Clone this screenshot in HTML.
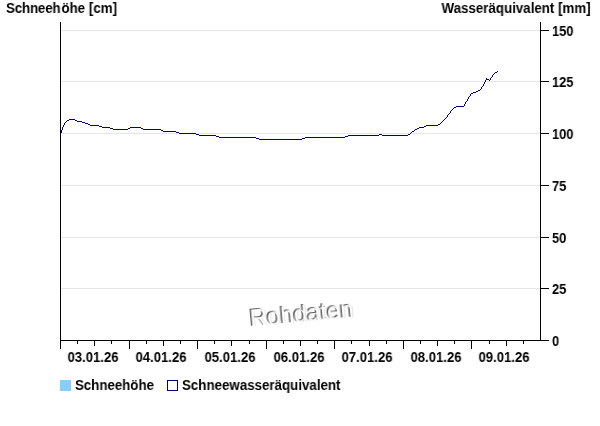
<!DOCTYPE html>
<html><head><meta charset="utf-8"><title>Schneehöhe</title>
<style>
html,body{margin:0;padding:0;background:#fff;}
body{width:600px;height:426px;position:relative;overflow:hidden;font-family:"Liberation Sans",Arial,sans-serif;color:#000;font-weight:bold;font-size:14px;}
.t,.rl,.dl{will-change:transform;}
.t{position:absolute;white-space:nowrap;line-height:16px;transform:scaleX(.952);transform-origin:0 0;}
.rl{position:absolute;left:551.8px;line-height:16px;white-space:nowrap;transform:scaleX(.92);transform-origin:0 0;}
.dl{position:absolute;top:349.15px;width:80px;text-align:center;transform:scaleX(.935);transform-origin:50% 0;line-height:16px;white-space:nowrap;}
svg{position:absolute;left:0;top:0;}
.wm{position:absolute;left:247px;top:303.5px;font-weight:normal;font-size:24px;will-change:transform;line-height:28px;transform:rotate(-5.2deg);transform-origin:0 100%;white-space:nowrap;}
.wm span{position:absolute;left:0;top:0;}
</style></head><body>
<svg width="600" height="426" viewBox="0 0 600 426">
<g stroke="#e6e6e6" stroke-width="1" shape-rendering="crispEdges"><line x1="61" y1="30.50" x2="540" y2="30.50"/><line x1="61" y1="81.50" x2="540" y2="81.50"/><line x1="61" y1="133.50" x2="540" y2="133.50"/><line x1="61" y1="185.50" x2="540" y2="185.50"/><line x1="61" y1="237.50" x2="540" y2="237.50"/><line x1="61" y1="288.50" x2="540" y2="288.50"/></g>
<g stroke="#000" stroke-width="1" shape-rendering="crispEdges">
<line x1="60.5" y1="22" x2="60.5" y2="349"/>
<line x1="540.5" y1="22" x2="540.5" y2="341"/>
<line x1="60" y1="340.5" x2="541" y2="340.5"/>
<line x1="541" y1="30.50" x2="549" y2="30.50"/><line x1="541" y1="81.50" x2="549" y2="81.50"/><line x1="541" y1="133.50" x2="549" y2="133.50"/><line x1="541" y1="185.50" x2="549" y2="185.50"/><line x1="541" y1="237.50" x2="549" y2="237.50"/><line x1="541" y1="288.50" x2="549" y2="288.50"/><line x1="541" y1="340.50" x2="549" y2="340.50"/>
<line x1="60.50" y1="340" x2="60.50" y2="349"/><line x1="77.50" y1="340" x2="77.50" y2="344"/><line x1="94.50" y1="340" x2="94.50" y2="346"/><line x1="111.50" y1="340" x2="111.50" y2="344"/><line x1="129.50" y1="340" x2="129.50" y2="349"/><line x1="146.50" y1="340" x2="146.50" y2="344"/><line x1="163.50" y1="340" x2="163.50" y2="346"/><line x1="180.50" y1="340" x2="180.50" y2="344"/><line x1="197.50" y1="340" x2="197.50" y2="349"/><line x1="214.50" y1="340" x2="214.50" y2="344"/><line x1="231.50" y1="340" x2="231.50" y2="346"/><line x1="249.50" y1="340" x2="249.50" y2="344"/><line x1="266.50" y1="340" x2="266.50" y2="349"/><line x1="283.50" y1="340" x2="283.50" y2="344"/><line x1="300.50" y1="340" x2="300.50" y2="346"/><line x1="317.50" y1="340" x2="317.50" y2="344"/><line x1="334.50" y1="340" x2="334.50" y2="349"/><line x1="351.50" y1="340" x2="351.50" y2="344"/><line x1="369.50" y1="340" x2="369.50" y2="346"/><line x1="386.50" y1="340" x2="386.50" y2="344"/><line x1="403.50" y1="340" x2="403.50" y2="349"/><line x1="420.50" y1="340" x2="420.50" y2="344"/><line x1="437.50" y1="340" x2="437.50" y2="346"/><line x1="454.50" y1="340" x2="454.50" y2="344"/><line x1="471.50" y1="340" x2="471.50" y2="349"/><line x1="489.50" y1="340" x2="489.50" y2="344"/><line x1="506.50" y1="340" x2="506.50" y2="346"/><line x1="523.50" y1="340" x2="523.50" y2="344"/>
</g>
<path fill="#000080" shape-rendering="crispEdges" d="M61 130h1v3h-1zM62 127h1v3h-1zM63 125h1v2h-1zM64 123h1v2h-1zM65 122h1v1h-1zM66 121h1v1h-1zM67 120h2v1h-2zM69 119h6v1h-6zM75 120h2v1h-2zM77 121h5v1h-5zM82 122h3v1h-3zM85 123h3v1h-3zM88 124h2v1h-2zM90 125h9v1h-9zM99 126h3v1h-3zM102 127h8v1h-8zM110 128h3v1h-3zM113 129h15v1h-15zM128 128h2v1h-2zM130 127h11v1h-11zM141 128h2v1h-2zM143 129h18v1h-18zM161 130h2v1h-2zM163 131h13v1h-13zM176 132h3v1h-3zM179 133h17v1h-17zM196 134h3v1h-3zM199 135h17v1h-17zM216 136h3v1h-3zM219 137h37v1h-37zM256 138h3v1h-3zM259 139h43v1h-43zM302 138h3v1h-3zM305 137h40v1h-40zM345 136h3v1h-3zM348 135h31v1h-31zM379 134h3v1h-3zM382 135h26v1h-26zM408 134h2v1h-2zM410 133h1v1h-1zM411 132h1v1h-1zM412 131h2v1h-2zM414 130h1v1h-1zM415 129h2v1h-2zM417 128h2v1h-2zM419 127h5v1h-5zM424 126h2v1h-2zM426 125h12v1h-12zM438 124h2v1h-2zM440 123h1v1h-1zM441 122h1v1h-1zM442 121h1v1h-1zM443 120h1v1h-1zM444 119h1v1h-1zM445 118h1v1h-1zM446 117h1v1h-1zM447 115h1v2h-1zM448 114h1v1h-1zM449 113h1v1h-1zM450 111h1v2h-1zM451 110h1v1h-1zM452 109h1v1h-1zM453 108h1v1h-1zM454 107h2v1h-2zM456 106h8v1h-8zM464 104h1v2h-1zM465 102h1v2h-1zM466 101h1v1h-1zM467 99h1v2h-1zM468 97h1v2h-1zM469 96h1v1h-1zM470 94h1v2h-1zM471 93h2v1h-2zM473 92h3v1h-3zM476 91h2v1h-2zM478 90h2v1h-2zM480 89h1v1h-1zM481 87h1v2h-1zM482 86h1v1h-1zM483 84h1v2h-1zM484 82h1v2h-1zM485 80h1v2h-1zM486 78h1v2h-1zM487 79h2v1h-2zM489 80h1v1h-1zM490 78h1v2h-1zM491 77h1v1h-1zM492 75h1v2h-1zM493 74h1v1h-1zM494 73h1v1h-1zM495 72h2v1h-2zM497 71h1v1h-1z"/>
<rect x="60" y="380" width="11" height="11" fill="#87cefa"/>
<rect x="167.5" y="380.5" width="10" height="10" fill="#fff" stroke="#000080" stroke-width="1"/>
</svg>
<div class="t" style="left:5.8px;top:0.15px"><span style="letter-spacing:-.17px">Schnee</span><span style="letter-spacing:.9px">h</span>öhe [cm]</div>
<div class="t" style="right:9px;top:0.15px;transform-origin:100% 0">Wasseräquivalent [mm]</div>
<div class="rl" style="top:23.15px">150</div><div class="rl" style="top:74.15px">125</div><div class="rl" style="top:126.15px">100</div><div class="rl" style="top:178.15px">75</div><div class="rl" style="top:230.15px">50</div><div class="rl" style="top:281.15px">25</div><div class="rl" style="top:333.15px">0</div>
<div class="dl" style="left:52.79px">03.01.26</div><div class="dl" style="left:121.36px">04.01.26</div><div class="dl" style="left:189.93px">05.01.26</div><div class="dl" style="left:258.50px">06.01.26</div><div class="dl" style="left:327.07px">07.01.26</div><div class="dl" style="left:395.64px">08.01.26</div><div class="dl" style="left:464.21px">09.01.26</div>
<div class="t" style="left:75.4px;top:377.15px;transform:scaleX(.948)">Schneehöhe</div>
<div class="t" style="left:182px;top:377.15px">Schneewasseräquivalent</div>
<div class="wm"><span style="color:#dcdcdc;left:2.2px;top:1.0px">Rohdaten</span><span style="color:#5e5e5e">Rohdaten</span><span style="color:#fff;left:1.5px;top:0.6px">Rohdaten</span></div>
</body></html>
